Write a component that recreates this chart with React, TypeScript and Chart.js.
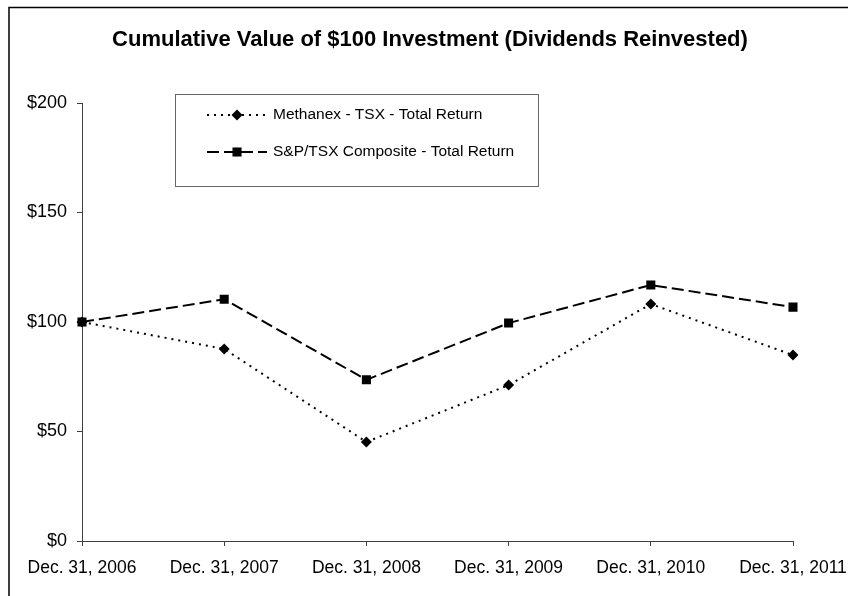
import React, { useEffect, useRef } from "react";
import { Chart, registerables } from "chart.js";

Chart.register(...registerables);

const categories = [
  "Dec. 31, 2006",
  "Dec. 31, 2007",
  "Dec. 31, 2008",
  "Dec. 31, 2009",
  "Dec. 31, 2010",
  "Dec. 31, 2011",
];
const methanexValues = [100, 87.7, 45.2, 71.2, 108.2, 84.9];
const spTsxValues = [100, 110.4, 73.6, 99.5, 116.9, 106.8];
const yTickValues = [0, 50, 100, 150, 200];
const seriesLabels = ["Methanex - TSX - Total Return", "S&P/TSX Composite - Total Return"];
const titleText = "Cumulative Value of $100 Investment (Dividends Reinvested)";

const FONT = '"Liberation Sans", Arial, sans-serif';
const AXIS_COLOR = "#404040";

const decorPlugin = {
  id: "decor",
  afterDraw(chart: any) {
    const ctx = chart.ctx as CanvasRenderingContext2D;
    ctx.save();
    // outer frame
    ctx.strokeStyle = "#000";
    ctx.lineWidth = 1.5;
    ctx.strokeRect(9, 7.5, chart.width + 20, chart.height + 20);
    // title
    ctx.fillStyle = "#000";
    ctx.font = `bold 22px ${FONT}`;
    ctx.textAlign = "center";
    ctx.textBaseline = "middle";
    ctx.fillText(titleText, 430, 40);
    // legend box
    ctx.fillStyle = "#fff";
    ctx.fillRect(175.5, 94.5, 363, 92);
    ctx.strokeStyle = "#666";
    ctx.lineWidth = 1;
    ctx.strokeRect(175.5, 94.5, 363, 92);
    const rows = [115, 152];
    chart.data.datasets.forEach((ds: any, i: number) => {
      const y = rows[i];
      ctx.strokeStyle = ds.borderColor;
      ctx.lineWidth = ds.borderWidth;
      ctx.setLineDash(ds.borderDash || []);
      ctx.beginPath();
      ctx.moveTo(207, y);
      ctx.lineTo(267, y);
      ctx.stroke();
      ctx.setLineDash([]);
      ctx.fillStyle = ds.pointBackgroundColor;
      const cx = 237;
      if (ds.pointStyle === "rect") {
        const h = ds.pointRadius * Math.SQRT1_2;
        ctx.fillRect(cx - h, y - h, 2 * h, 2 * h);
      } else {
        const r = ds.pointRadius;
        ctx.beginPath();
        ctx.moveTo(cx, y - r);
        ctx.lineTo(cx + r, y);
        ctx.lineTo(cx, y + r);
        ctx.lineTo(cx - r, y);
        ctx.closePath();
        ctx.fill();
      }
      ctx.fillStyle = "#000";
      ctx.font = `15.5px ${FONT}`;
      ctx.textAlign = "left";
      ctx.textBaseline = "middle";
      ctx.fillText(ds.label, 273, y);
    });
    ctx.restore();
  },
};

export default function App() {
  const ref = useRef<HTMLCanvasElement | null>(null);

  useEffect(() => {
    if (!ref.current) return;
    const chart = new Chart(ref.current, {
      type: "line",
      data: {
        labels: categories,
        datasets: [
          {
            label: seriesLabels[0],
            data: methanexValues,
            borderColor: "#000",
            backgroundColor: "#000",
            pointBackgroundColor: "#000",
            pointBorderColor: "#000",
            borderWidth: 2,
            borderDash: [2, 5],
            pointStyle: "rectRot",
            pointRadius: 5.5,
            pointBorderWidth: 0,
            tension: 0,
            fill: false,
          },
          {
            label: seriesLabels[1],
            data: spTsxValues,
            borderColor: "#000",
            backgroundColor: "#000",
            pointBackgroundColor: "#000",
            pointBorderColor: "#000",
            borderWidth: 2,
            borderDash: [12, 5],
            pointStyle: "rect",
            pointRadius: 6.4,
            pointBorderWidth: 0,
            tension: 0,
            fill: false,
          },
        ],
      } as any,
      options: {
        animation: false,
        responsive: false,
        devicePixelRatio: 1,
        layout: { padding: { left: 12, top: 103, right: 0, bottom: 0 } },
        plugins: {
          legend: { display: false },
          title: { display: false },
          tooltip: { enabled: false },
        },
        scales: {
          x: {
            type: "category",
            offset: false,
            grid: {
              display: true,
              drawOnChartArea: false,
              drawTicks: true,
              tickLength: 5,
              color: AXIS_COLOR,
            },
            border: { display: true, color: AXIS_COLOR, width: 1 },
            ticks: {
              color: "#000",
              font: { family: FONT, size: 17.5 },
              padding: 12,
              maxRotation: 0,
              minRotation: 0,
              autoSkip: false,
            },
            afterFit: (s: any) => {
              s.height = 55;
              s.paddingRight = 55;
            },
          },
          y: {
            min: 0,
            max: 200,
            afterBuildTicks: (s: any) => {
              s.ticks = yTickValues.map((v) => ({ value: v }));
            },
            grid: {
              display: true,
              drawOnChartArea: false,
              drawTicks: true,
              tickLength: 5,
              color: AXIS_COLOR,
            },
            border: { display: true, color: AXIS_COLOR, width: 1 },
            ticks: {
              color: "#000",
              font: { family: FONT, size: 18 },
              padding: 10,
              callback: (v: any) => "$" + v,
            },
            afterFit: (s: any) => {
              s.width = 70;
            },
          },
        },
      } as any,
      plugins: [decorPlugin],
    });
    return () => chart.destroy();
  }, []);

  return (
    <div style={{ position: "fixed", left: 0, top: 0, width: 848, height: 596, background: "#fff" }}>
      <canvas ref={ref} width={848} height={596} style={{ width: 848, height: 596, display: "block" }} />
    </div>
  );
}
